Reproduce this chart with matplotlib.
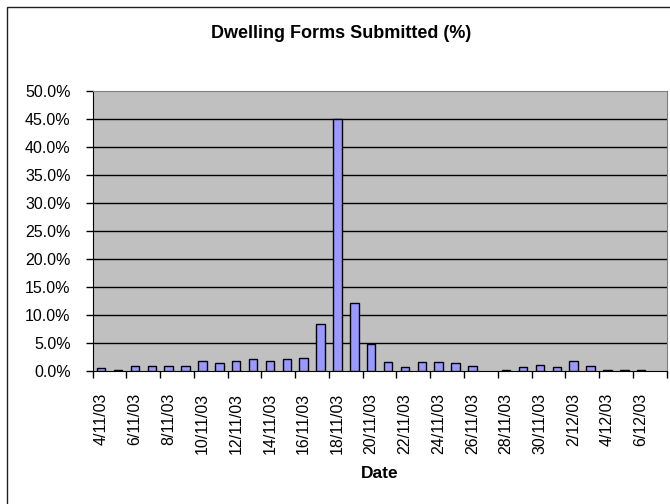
import matplotlib
matplotlib.use("Agg")
import matplotlib.pyplot as plt
from matplotlib.patches import Rectangle
from matplotlib.ticker import FixedLocator, FuncFormatter

plt.rcParams['font.family'] = ['Liberation Sans', 'DejaVu Sans']

# daily share of dwelling forms submitted
dates = ["4/11/03", "5/11/03", "6/11/03", "7/11/03", "8/11/03", "9/11/03",
         "10/11/03", "11/11/03", "12/11/03", "13/11/03", "14/11/03", "15/11/03",
         "16/11/03", "17/11/03", "18/11/03", "19/11/03", "20/11/03", "21/11/03",
         "22/11/03", "23/11/03", "24/11/03", "25/11/03", "26/11/03", "27/11/03",
         "28/11/03", "29/11/03", "30/11/03", "1/12/03", "2/12/03", "3/12/03",
         "4/12/03", "5/12/03", "6/12/03", "7/12/03"]
pct_submitted = [0.4, 0.2, 0.9, 0.9, 0.9, 0.9,
                 1.8, 1.3, 1.8, 2.0, 1.8, 2.0,
                 2.2, 8.3, 44.9, 12.0, 4.7, 1.6,
                 0.7, 1.6, 1.6, 1.3, 0.9, 0.0,
                 0.2, 0.7, 1.1, 0.7, 1.8, 0.9,
                 0.2, 0.2, 0.2, 0.0]
y_ticks = [0, 5, 10, 15, 20, 25, 30, 35, 40, 45, 50]

fig = plt.figure(figsize=(6.7, 5.04), dpi=100)
ax = fig.add_axes([0.1384, 0.2645, 0.8564, 0.5555])

# chart area frame
fig.patches.append(Rectangle((7 / 670, -0.05), 1.0, 1 - 7 / 504 + 0.05,
                             transform=fig.transFigure, fill=False,
                             edgecolor='#202020', linewidth=1.0))

ax.set_facecolor('#C0C0C0')
xs = [i for i, v in enumerate(pct_submitted) if v > 0]
vals = [v for v in pct_submitted if v > 0]
ax.bar(xs, vals, width=0.5, color='#9999FF', edgecolor='#000000',
       linewidth=1.0, zorder=3)

ax.set_xlim(-0.5, len(dates) - 0.5)
ax.set_ylim(0, 50)

for y in y_ticks[1:-1]:
    ax.axhline(y, color='black', linewidth=1.0, zorder=1)

ax.set_yticks(y_ticks)
ax.yaxis.set_major_formatter(FuncFormatter(lambda v, _: f"{v:.1f}%"))
ax.tick_params(axis='y', direction='out', length=5, width=1, pad=11,
               labelsize=11.5, colors='black')

# tick marks between category pairs, labels on every second date
ax.xaxis.set_major_locator(FixedLocator([i - 0.5 for i in range(0, len(dates) + 1, 2)]))
ax.xaxis.set_major_formatter(FuncFormatter(lambda v, _: ""))
ax.xaxis.set_minor_locator(FixedLocator(list(range(0, len(dates), 2))))
ax.set_xticklabels([dates[i] for i in range(0, len(dates), 2)], minor=True,
                   rotation=90, fontsize=11.5)
ax.tick_params(axis='x', which='major', direction='out', length=5, width=1)
ax.tick_params(axis='x', which='minor', length=0, pad=16)

for side in ['top', 'right']:
    ax.spines[side].set_color('#808080')
for side in ['left', 'bottom']:
    ax.spines[side].set_color('black')

fig.text(341 / 670, 1 - 33 / 504, "Dwelling Forms Submitted (%)",
         ha='center', va='center', fontsize=13, fontweight='bold')
fig.text(0.5 * (92.7 + 666.5) / 670, 1 - 474 / 504, "Date",
         ha='center', va='center', fontsize=12.5, fontweight='bold')

fig.savefig("out.png", dpi=100)
